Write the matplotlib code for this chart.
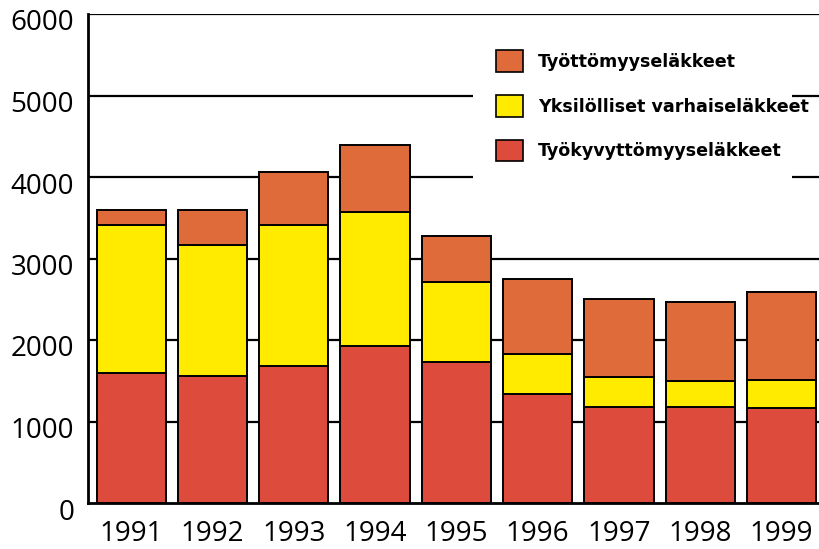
import numpy as np
import matplotlib
matplotlib.use("Agg")
import matplotlib.pyplot as plt
from matplotlib.patches import Patch, Rectangle
from matplotlib.transforms import ScaledTranslation

# =============================================================================
# DATA
# =============================================================================
years = ["1991", "1992", "1993", "1994", "1995", "1996", "1997", "1998", "1999"]
tyokyvyttomyys = [1600, 1560, 1680, 1925, 1725, 1335, 1180, 1180, 1170]  # red, bottom
yksilolliset = [1810, 1600, 1730, 1645, 985, 495, 360, 320, 340]         # yellow, middle
tyottomyys = [185, 435, 655, 820, 565, 920, 960, 965, 1075]              # orange, top

labels = ["Työttömyyseläkkeet", "Yksilölliset varhaiseläkkeet", "Työkyvyttömyyseläkkeet"]
col_orange = "#E06B3A"
col_yellow = "#FFEB00"
col_red = "#DC4B3C"

# =============================================================================
# PLOT
# =============================================================================
fig = plt.figure(figsize=(8.19, 5.49), dpi=100)
ax = fig.add_axes([88 / 819, (549 - 503) / 549, (819 - 88) / 819, (503 - 14) / 549])

x = np.arange(len(years))
w = 0.85
bot2 = np.array(tyokyvyttomyys)
bot3 = bot2 + np.array(yksilolliset)

ax.bar(x, tyokyvyttomyys, width=w, color=col_red, edgecolor="black", linewidth=1.4, zorder=3)
ax.bar(x, yksilolliset, width=w, bottom=bot2, color=col_yellow, edgecolor="black", linewidth=1.4, zorder=3)
ax.bar(x, tyottomyys, width=w, bottom=bot3, color=col_orange, edgecolor="black", linewidth=1.4, zorder=3)

# horizontal grid lines behind the bars
for yv in range(1000, 7000, 1000):
    ax.axhline(yv, color="black", linewidth=1.6, zorder=1)

ax.set_xlim(-0.53, 8.46)
ax.set_ylim(0, 6000)

for side in ["top", "right"]:
    ax.spines[side].set_visible(False)
ax.spines["left"].set_linewidth(2)
ax.spines["bottom"].set_linewidth(2)

ax.set_xticks(x)
ax.set_xticklabels(years)
ax.set_yticks(range(0, 7000, 1000))
ax.tick_params(axis="both", length=0, labelsize=20)
ax.tick_params(axis="y", pad=10)
ax.tick_params(axis="x", pad=12)
for lab in ax.get_xticklabels() + ax.get_yticklabels():
    lab.set_fontfamily("Open Sans")
for lab in ax.get_yticklabels():
    lab.set_transform(lab.get_transform() + ScaledTranslation(0, -6 / 100, fig.dpi_scale_trans))

# white box behind the legend hides the grid lines
ax.add_patch(Rectangle((0.527, 0.66), 0.436, 0.31, transform=ax.transAxes,
                       facecolor="white", edgecolor="none", zorder=2))

handles = [
    Patch(facecolor=col_orange, edgecolor="black", linewidth=1.2),
    Patch(facecolor=col_yellow, edgecolor="black", linewidth=1.2),
    Patch(facecolor=col_red, edgecolor="black", linewidth=1.2),
]
leg = ax.legend(handles, labels, loc="upper left", bbox_to_anchor=(0.558, 0.926),
                frameon=False, borderpad=0, borderaxespad=0,
                handlelength=1.55, handleheight=1.55, labelspacing=1.3, handletextpad=0.85,
                prop={"family": "DejaVu Sans", "weight": "bold", "size": 12.6})
leg.set_zorder(4)

fig.savefig("out.png", dpi=100)
